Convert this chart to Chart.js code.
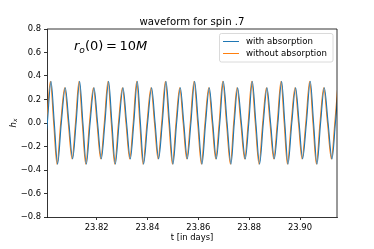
<!DOCTYPE html>
<html><head><meta charset="utf-8">
<script src="https://cdn.jsdelivr.net/npm/chart.js@4"></script>
<style>html,body{margin:0;padding:0;background:#fff;}canvas{display:block;}</style>
</head><body>
<canvas id="c" width="374" height="249"></canvas>
<script>
// time in days (extremes and zero crossings)
const tWith = [23.79899, 23.80056, 23.80202, 23.80331, 23.80461, 23.80607, 23.80764, 23.80906, 23.81052, 23.81189,
 23.81327, 23.81457, 23.81591, 23.81740, 23.81894, 23.82035, 23.82181, 23.82323, 23.82468, 23.82598,
 23.82732, 23.82881, 23.83035, 23.83176, 23.83322, 23.83460, 23.83598, 23.83720, 23.83845, 23.84003,
 23.84160, 23.84298, 23.84436, 23.84581, 23.84727, 23.84865, 23.85002, 23.85144, 23.85290, 23.85427,
 23.85565, 23.85707, 23.85852, 23.85998, 23.86143, 23.86285, 23.86431, 23.86568, 23.86706, 23.86844,
 23.86982, 23.87131, 23.87285, 23.87414, 23.87544, 23.87694, 23.87847, 23.87985, 23.88123, 23.88264,
 23.88410, 23.88556, 23.88701, 23.88843, 23.88989, 23.89130, 23.89276, 23.89402, 23.89528, 23.89677,
 23.89827, 23.89965, 23.90102, 23.90252, 23.90405, 23.90535, 23.90669, 23.90810, 23.90956, 23.91106,
 23.91259, 23.91393, 23.91527];
const hWith = [-0.305, 0, 0.355, 0, -0.35, 0, 0.30, 0, -0.305, 0,
 0.355, 0, -0.35, 0, 0.30, 0, -0.305, 0, 0.355, 0,
 -0.35, 0, 0.30, 0, -0.305, 0, 0.355, 0, -0.35, 0,
 0.30, 0, -0.305, 0, 0.355, 0, -0.35, 0, 0.30, 0,
 -0.305, 0, 0.355, 0, -0.35, 0, 0.30, 0, -0.305, 0,
 0.355, 0, -0.35, 0, 0.30, 0, -0.305, 0, 0.355, 0,
 -0.35, 0, 0.30, 0, -0.305, 0, 0.355, 0, -0.35, 0,
 0.30, 0, -0.305, 0, 0.355, 0, -0.35, 0, 0.30, 0,
 -0.305, 0, 0.355];
const tWithout = [23.79875, 23.80032, 23.80178, 23.80307, 23.80437, 23.80583, 23.80740, 23.80882, 23.81028, 23.81165,
 23.81303, 23.81433, 23.81567, 23.81716, 23.81870, 23.82011, 23.82157, 23.82299, 23.82444, 23.82574,
 23.82708, 23.82857, 23.83011, 23.83152, 23.83298, 23.83436, 23.83574, 23.83696, 23.83821, 23.83979,
 23.84136, 23.84274, 23.84412, 23.84557, 23.84703, 23.84841, 23.84978, 23.85120, 23.85266, 23.85403,
 23.85541, 23.85683, 23.85828, 23.85974, 23.86119, 23.86261, 23.86407, 23.86544, 23.86682, 23.86820,
 23.86958, 23.87107, 23.87261, 23.87390, 23.87520, 23.87670, 23.87823, 23.87961, 23.88099, 23.88240,
 23.88386, 23.88532, 23.88677, 23.88819, 23.88965, 23.89106, 23.89252, 23.89378, 23.89504, 23.89653,
 23.89803, 23.89941, 23.90078, 23.90228, 23.90381, 23.90511, 23.90645, 23.90786, 23.90932, 23.91082,
 23.91235, 23.91369, 23.91503];
const hWithout = [-0.305, 0, 0.355, 0, -0.35, 0, 0.30, 0, -0.305, 0,
 0.355, 0, -0.35, 0, 0.30, 0, -0.305, 0, 0.355, 0,
 -0.35, 0, 0.30, 0, -0.305, 0, 0.355, 0, -0.35, 0,
 0.30, 0, -0.305, 0, 0.355, 0, -0.35, 0, 0.30, 0,
 -0.305, 0, 0.355, 0, -0.35, 0, 0.30, 0, -0.305, 0,
 0.355, 0, -0.35, 0, 0.30, 0, -0.305, 0, 0.355, 0,
 -0.35, 0, 0.30, 0, -0.305, 0, 0.355, 0, -0.35, 0,
 0.30, 0, -0.305, 0, 0.355, 0, -0.35, 0, 0.30, 0,
 -0.305, 0, 0.355];
const xTicks = [23.82, 23.84, 23.86, 23.88, 23.90];
const yTicks = [-0.8, -0.6, -0.4, -0.2, 0.0, 0.2, 0.4, 0.6, 0.8];
const seriesLabels = ['with absorption', 'without absorption'];
const titleText = 'waveform for spin .7';
const xLabelText = 't [in days]';

const BLUE = '#1f77b4', ORANGE = '#ff7f0e';
const FONT = "'DejaVu Sans'";
const toPts = (ts, hs) => ts.map((t, i) => ({x: t, y: hs[i]}));

const overlay = {
  id: 'overlay',
  afterDraw(chart) {
    const ctx = chart.ctx, a = chart.chartArea;
    ctx.save();
    ctx.strokeStyle = '#000'; ctx.lineWidth = 0.8;
    ctx.beginPath();
    ctx.moveTo(a.left, a.top); ctx.lineTo(a.right, a.top); ctx.lineTo(a.right, a.bottom);
    ctx.stroke();
    ctx.fillStyle = '#000';
    ctx.font = '10.2px ' + FONT; ctx.textAlign = 'center'; ctx.textBaseline = 'alphabetic';
    ctx.fillText(titleText, (a.left + a.right) / 2, 25);
    ctx.font = '8.4px ' + FONT;
    ctx.fillText(xLabelText, (a.left + a.right) / 2, 240);
    ctx.save();
    ctx.translate(15.5, 123); ctx.rotate(-Math.PI / 2);
    ctx.textAlign = 'left';
    ctx.font = 'italic 8.4px ' + FONT;
    const wh = ctx.measureText('h').width;
    ctx.font = 'italic 5.9px ' + FONT;
    const wx = ctx.measureText('x').width;
    let sx = -(wh + wx) / 2;
    ctx.font = 'italic 8.4px ' + FONT; ctx.fillText('h', sx, 0);
    ctx.font = 'italic 5.9px ' + FONT; ctx.fillText('x', sx + wh, 1.6);
    ctx.restore();
    const S = 13, s2 = 9.1;
    const parts = [
      ['italic', S, 'r', 0], ['italic', s2, 'o', 2.8], ['normal', S, '(0)', 0],
      ['normal', S, '\u2009=\u2009', 0], ['normal', S, '10', 0], ['italic', S, 'M', 0]
    ];
    let x = 74; ctx.textAlign = 'left';
    for (const [st, sz, txt, dy] of parts) {
      ctx.font = (st === 'italic' ? 'italic ' : '') + sz + 'px ' + FONT;
      ctx.fillText(txt, x, 50 + dy);
      x += ctx.measureText(txt).width;
    }
    const lx = 219.5, ly = 33.5, lw = 113.5, lh = 28.5;
    ctx.beginPath(); ctx.roundRect(lx, ly, lw, lh, 2);
    ctx.fillStyle = 'rgba(255,255,255,0.8)'; ctx.fill();
    ctx.strokeStyle = '#d0d0d0'; ctx.lineWidth = 0.8; ctx.stroke();
    const rows = [[BLUE, 41.5], [ORANGE, 53.5]];
    ctx.font = '8.6px ' + FONT; ctx.textBaseline = 'middle'; ctx.fillStyle = '#000';
    rows.forEach(([c, y], i) => {
      ctx.strokeStyle = c; ctx.lineWidth = 1.0;
      ctx.beginPath(); ctx.moveTo(223, y); ctx.lineTo(239, y); ctx.stroke();
      ctx.fillText(seriesLabels[i], 246, y);
    });
    ctx.restore();
  }
};

new Chart(document.getElementById('c'), {
  type: 'line',
  data: {
    datasets: [
      {label: seriesLabels[0], data: toPts(tWith, hWith), borderColor: BLUE, borderWidth: 1.1,
       pointRadius: 0, cubicInterpolationMode: 'monotone', clip: 0, fill: false},
      {label: seriesLabels[1], data: toPts(tWithout, hWithout), borderColor: ORANGE, borderWidth: 1.1,
       pointRadius: 0, cubicInterpolationMode: 'monotone', clip: 0, fill: false}
    ]
  },
  options: {
    responsive: false, animation: false, devicePixelRatio: 1,
    layout: {padding: {left: 0, right: 37, top: 29, bottom: 0}},
    plugins: {legend: {display: false}, title: {display: false}, tooltip: {enabled: false}},
    scales: {
      x: {
        type: 'linear', min: 23.80044, max: 23.91456,
        afterBuildTicks(s) { s.ticks = xTicks.map(v => ({value: v})); },
        afterFit(s) { s.height = 32; },
        grid: {drawOnChartArea: false, drawTicks: true, tickLength: 3, color: '#000', lineWidth: 0.8},
        border: {display: true, color: '#000', width: 0.8},
        ticks: {autoSkip: false, maxRotation: 0, padding: 3, color: '#000',
          font: {family: 'DejaVu Sans', size: 8.4},
          callback: v => v.toFixed(2)}
      },
      y: {
        type: 'linear', min: -0.8, max: 0.8,
        afterBuildTicks(s) { s.ticks = yTicks.map(v => ({value: v})); },
        afterFit(s) { s.width = 47; },
        grid: {drawOnChartArea: false, drawTicks: true, tickLength: 3, color: '#000', lineWidth: 0.8},
        border: {display: true, color: '#000', width: 0.8},
        ticks: {autoSkip: false, padding: 3, color: '#000',
          font: {family: 'DejaVu Sans', size: 8.4},
          callback: v => (Math.abs(v) < 1e-9 ? 0 : v).toFixed(1).replace('-', '\u2212')}
      }
    }
  },
  plugins: [overlay]
});
</script>
</body></html>
